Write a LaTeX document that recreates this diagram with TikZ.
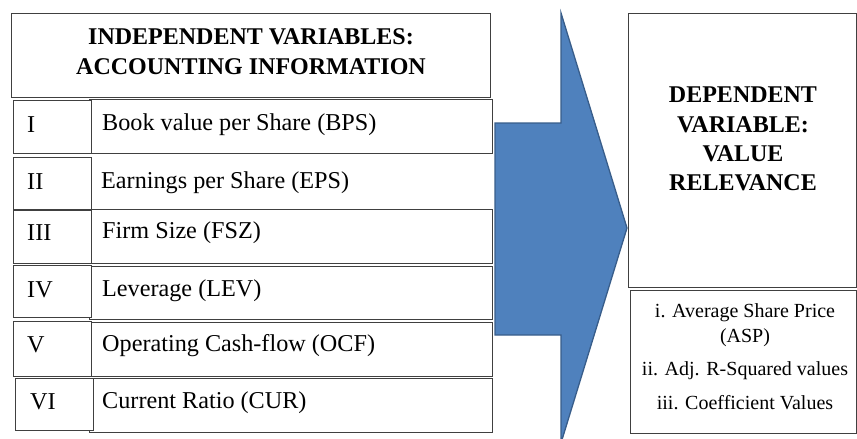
\documentclass[tikz,border=0pt]{standalone}
\usepackage{fontspec}
\setmainfont{Liberation Serif}
\definecolor{linegray}{HTML}{404040}
\definecolor{arrowfill}{HTML}{4F81BD}
\definecolor{arrowedge}{HTML}{385D8A}
\begin{document}
\begin{tikzpicture}[x=1pt,y=-1pt,
  frame/.style={draw=linegray, line width=1pt, fill=white, inner sep=0pt, anchor=north west},
  hdrtext/.style={align=center, inner sep=0pt, font=\fontsize{24}{30}\selectfont\bfseries},
  deptext/.style={align=center, inner sep=0pt, font=\fontsize{24}{29.3}\selectfont\bfseries},
  rowtext/.style={anchor=west, inner sep=0pt, font=\fontsize{24.2}{28}\selectfont},
  listtext/.style={align=center, inner sep=0pt, font=\fontsize{20}{25}\selectfont},
  blockarrow/.style={fill=arrowfill, draw=arrowedge, line width=1.3pt, line join=miter}]
\useasboundingbox (0,0) rectangle (857,439);

% block arrow between the two columns
\path[blockarrow] (495,123) -- (561,123) -- (561,13) -- (627,228) -- (561,443)
  -- (561,335) -- (495,335) -- cycle;

% header of the left column
\node[frame, minimum width=479pt, minimum height=84pt] (hdr) at (11,13) {};
\node[hdrtext] (hdrtxt) at ([yshift=4pt]hdr.center) {INDEPENDENT VARIABLES:\\ACCOUNTING INFORMATION};

% wide rows
\node[frame, minimum width=403pt, minimum height=54pt] (r1w) at (89,99) {};
\node[frame, minimum width=403pt, minimum height=54pt] (r3w) at (89,209) {};
\node[frame, minimum width=403pt, minimum height=53pt] (r4w) at (89,266) {};
\node[frame, minimum width=403pt, minimum height=54pt] (r5w) at (89,322) {};
\node[frame, minimum width=403pt, minimum height=54pt] (r6w) at (89,378) {};

% numbered cells
\node[frame, minimum width=78pt, minimum height=53pt] (r1n) at (13,100) {};
\node[frame, minimum width=78pt, minimum height=52pt] (r2n) at (13,156.5) {};
\node[frame, minimum width=78pt, minimum height=53pt] (r3n) at (13,210) {};
\node[frame, minimum width=78pt, minimum height=52pt] (r4n) at (13,265) {};
\node[frame, minimum width=78pt, minimum height=55pt] (r5n) at (13,321) {};
\node[frame, minimum width=78pt, minimum height=52pt] (r6n) at (15,378) {};

% numerals
\node[rowtext] (n1) at (27,125) {I};
\node[rowtext] (n2) at (27,182) {II};
\node[rowtext] (n3) at (27,233) {III};
\node[rowtext] (n4) at (27,290) {IV};
\node[rowtext] (n5) at (27,345) {V};
\node[rowtext] (n6) at (30,402) {VI};

% variable names
\node[rowtext] (t1) at (102,125) {Book value per Share (BPS)};
\node[rowtext] (t2) at (101,183) {Earnings per Share (EPS)};
\node[rowtext] (t3) at (102,233) {Firm Size (FSZ)};
\node[rowtext] (t4) at (102,291) {Leverage (LEV)};
\node[rowtext] (t5) at (102,346) {Operating Cash-flow (OCF)};
\node[rowtext] (t6) at (102,403) {Current Ratio (CUR)};

% right column
\node[frame, minimum width=228pt, minimum height=274pt] (dep) at (628,13) {};
\node[deptext] (deptxt) at (743,139) {DEPENDENT\\VARIABLE:\\VALUE\\RELEVANCE};

\node[frame, minimum width=226pt, minimum height=143pt] (meas) at (630,290) {};
\node[listtext] (meastxt) at (745,357) {i. Average Share Price\\(ASP)\\[8pt]ii. Adj. R-Squared values\\[9pt]iii. Coefficient Values};
\end{tikzpicture}
\end{document}
